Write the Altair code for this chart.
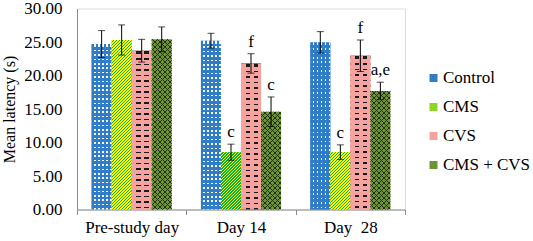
import altair as alt
import pandas as pd

groups = ["Pre-study day", "Day 14", "Day\u00a0 28"]
series = ["Control", "CMS", "CVS", "CMS + CVS"]
colors = ["#2E7DC6", "#8CD628", "#F4A3A0", "#6A9436"]

control_mean = [24.7, 25.2, 24.95]
cms_mean = [25.3, 8.55, 8.55]
cvs_mean = [23.7, 21.8, 22.95]
combo_mean = [25.4, 14.6, 17.7]

control_err = [2.0, 1.1, 1.6]
cms_err = [2.25, 1.2, 1.1]
cvs_err = [1.7, 1.45, 2.35]
combo_err = [1.85, 2.2, 1.3]

control_lab = ["", "", ""]
cms_lab = ["", "c", "c"]
cvs_lab = ["", "f", "f"]
combo_lab = ["", "c", "a,e"]

rows = []
for s, m, e, l in zip(series,
                      [control_mean, cms_mean, cvs_mean, combo_mean],
                      [control_err, cms_err, cvs_err, combo_err],
                      [control_lab, cms_lab, cvs_lab, combo_lab]):
    for g, mv, ev, lv in zip(groups, m, e, l):
        rows.append({"group": g, "series": s, "mean": mv,
                     "lo": mv - ev, "hi": mv + ev, "label": lv})
df = pd.DataFrame(rows)

FONT = "Liberation Serif"
YT = "Mean latency (s)"
W, H = 328, 201
YMAX = 30
CLEAR = "rgba(0,0,0,0)"

# ---- texture helpers (linear gradients with hard stops) ----
def stripes(direction, w, h, period, on, c_on, c_off, phase=0.0):
    if direction == "h":
        geo, total, k = dict(x1=0, y1=0, x2=0, y2=1), h, 1.0 / h
    elif direction == "v":
        geo, total, k = dict(x1=0, y1=0, x2=1, y2=0), w, 1.0 / w
    elif direction == "/":
        geo, total, k = dict(x1=0, y1=0, x2=1, y2=h / w), w + h, w / (w * w + h * h)
    else:  # "\\"
        geo, total, k = dict(x1=0, y1=1, x2=1, y2=1 - h / w), w + h, w / (w * w + h * h)
    stops = []
    s = -phase
    while s < total:
        a, b, c = max(s, 0), max(min(s + on, total), 0), min(s + period, total)
        if b > a:
            stops += [(a, c_on), (b, c_on)]
        if c > b:
            stops += [(b, c_off), (c, c_off)]
        s += period
    gs = [alt.GradientStop(offset=min(1.0, round(p * k, 5)), color=col) for p, col in stops]
    return alt.Gradient(gradient="linear", stops=gs, **geo)


band = W / 3.0
barw = band / (4 + 2 * 0.73)

def textures(series_name, mean):
    h = mean / YMAX * H
    w = barw
    if series_name == "Control":
        return [stripes("h", w, h, 4.4, 1.6, "#FFFFFF", CLEAR, phase=-1.4),
                stripes("v", w, h, 4.0, 2.4, "#2E7DC6", CLEAR, phase=0.0)]
    if series_name == "CMS":
        return [stripes("/", w, h, 3.0, 1.5, "#FFFF00", "#12AA3A")]
    if series_name == "CVS":
        return [stripes("h", w, h, 5.5, 1.5, "#1A1A1A", CLEAR, phase=-2.0),
                stripes("v", w, h, 8.0, 3.5, "#F4A3A0", CLEAR, phase=-1.0)]
    return [stripes("/", w, h, 5.0, 1.0, "#24310E", CLEAR),
            stripes("\\", w, h, 5.0, 1.0, "#24310E", CLEAR)]


base = alt.Chart(df).encode(
    x=alt.X("group:N", sort=groups, title=None,
            scale=alt.Scale(paddingInner=0, paddingOuter=0),
            axis=alt.Axis(tickBand="extent", tickSize=5, labelPadding=5,
                          labelAngle=0, labelFontSize=17, labelFont=FONT,
                          labelColor="black", domainColor="#8c8c8c",
                          tickColor="#8c8c8c")),
    xOffset=alt.XOffset("series:N", sort=series,
                        scale=alt.Scale(paddingInner=0, paddingOuter=0.73)),
)

yscale = alt.Scale(domain=[0, YMAX])

def yaxis():
    return alt.Axis(values=[0, 5, 10, 15, 20, 25, 30], format=".2f",
                    tickSize=0, labelPadding=15, labelFontSize=17,
                    labelFont=FONT, labelColor="black", grid=False,
                    labelOverlap=False, title=YT,
                    domainColor="#8c8c8c", titleFont=FONT, titleFontSize=16,
                    titleFontWeight="normal", titleColor="black", titlePadding=6)

bars = base.mark_bar().encode(
    y=alt.Y("mean:Q", scale=yscale, axis=yaxis()),
    color=alt.Color("series:N", sort=series,
                    scale=alt.Scale(domain=series, range=colors),
                    legend=alt.Legend(title=None, orient="none",
                                      legendX=348, legendY=61,
                                      symbolType="square", symbolSize=64,
                                      symbolStrokeWidth=0,
                                      labelFont=FONT, labelFontSize=17,
                                      labelColor="black", rowPadding=11,
                                      labelOffset=1)),
)

tex_layers = []
for s, means in zip(series, [control_mean, cms_mean, cvs_mean, combo_mean]):
    for g, mv in zip(groups, means):
        for grad in textures(s, mv):
            tex_layers.append(
                base.transform_filter(
                    (alt.datum.series == s) & (alt.datum.group == g)
                ).mark_bar(fill=grad).encode(
                    y=alt.Y("mean:Q", scale=yscale, axis=yaxis()))
            )

rules = base.mark_rule(color="black", strokeWidth=1).encode(
    y=alt.Y("lo:Q", scale=yscale, axis=yaxis()), y2="hi:Q")
caps_hi = base.mark_tick(color="black", thickness=1, size=7).encode(
    y=alt.Y("hi:Q", scale=yscale, axis=yaxis()))
caps_lo = base.mark_tick(color="black", thickness=1, size=7).encode(
    y=alt.Y("lo:Q", scale=yscale, axis=yaxis()))
labels = base.mark_text(baseline="bottom", dy=-3, font=FONT, fontSize=17,
                        color="black").encode(
    y=alt.Y("hi:Q", scale=yscale, axis=yaxis()), text="label:N")

chart = alt.layer(bars, *tex_layers, rules, caps_hi, caps_lo, labels).properties(
    width=W, height=H,
    autosize=alt.AutoSizeParams(type="none"),
    padding={"left": 77, "top": 8.5, "right": 128, "bottom": 31.5},
).configure_view(stroke=None).configure(background="white").configure_legend(
    labelFont=FONT, labelFontSize=17, labelColor="black"
).configure_axis(labelFont=FONT, titleFont=FONT)

chart.save("out.html", embed_options={"renderer": "svg", "actions": False})
